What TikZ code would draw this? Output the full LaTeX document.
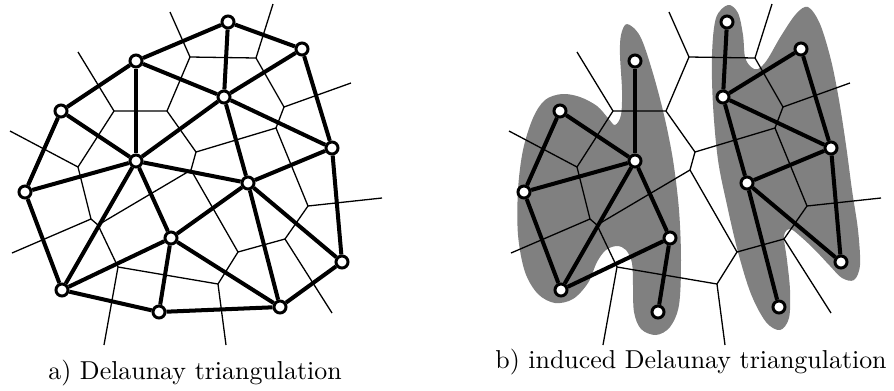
\documentclass[tikz,border=0pt]{standalone}
\usepackage{tikz}
\definecolor{blobgray}{gray}{0.5}
\tikzset{main node/.style={circle,fill=white,draw,line width=1.15pt,minimum size=4.65pt,inner sep=0pt},}
\tikzstyle{tri} = [line width=1.55pt]
\tikzstyle{vor} = [line width=0.5pt,line join=round]
\tikzstyle{subcap} = [anchor=base,inner sep=0pt]

\begin{document}
\begin{tikzpicture}[x=0.386pt,y=-0.386pt]
\useasboundingbox (0,0) rectangle (894,390);
% shaded clusters of b)
\fill[blobgray] plot[smooth cycle,tension=0.55] coordinates {
  (627,24) (640,36) (652,70) (664,115) (673,160) (679,210) (681,260)
  (679,305) (670,327) (656,335) (641,329) (634,312) (633,285) (632,263)
  (626,250) (617,246) (606,250) (597,262) (588,283) (573,299) (555,303)
  (538,294) (525,272) (518,235) (518,190) (523,150) (533,118) (545,100)
  (562,94) (580,97) (597,106) (608,118) (615,125) (621,115) (622,90)
  (620,55) (621,35)};
\fill[blobgray] plot[smooth cycle,tension=0.55] coordinates {
  (728,5) (738,13) (743,35) (745,57) (751,67) (758,69) (767,60) (781,36)
  (796,14) (808,7) (820,24) (831,60) (839,100) (846,145) (852,190)
  (858,230) (860,265) (854,280) (842,278) (830,266) (815,250) (800,236)
  (790,229) (784,236) (787,260) (790,290) (789,318) (780,330) (766,322)
  (751,294) (738,252) (727,205) (718,160) (713,105) (712,55) (716,18)};
% voronoi cells and sites, once for each panel
\foreach \s/\p in {0/a,499/b}{
  \begin{scope}[shift={(\s,0)},name prefix=\p-]
    \coordinate (v1) at (190,57);
    \coordinate (v2) at (256,58);
    \coordinate (v3) at (114,111);
    \coordinate (v4) at (167,111);
    \coordinate (v5) at (284,107);
    \coordinate (v6) at (78,167);
    \coordinate (v7) at (91,219);
    \coordinate (v8) at (98,225);
    \coordinate (v9) at (196,152);
    \coordinate (v10) at (191,170);
    \coordinate (v11) at (276,128);
    \coordinate (v12) at (118,267);
    \coordinate (v13) at (218,284);
    \coordinate (v14) at (238,252);
    \coordinate (v15) at (285,239);
    \coordinate (v16) at (308,206);
    \coordinate (w1) at (170,12);
    \coordinate (w2) at (273,4);
    \coordinate (w3) at (351,83);
    \coordinate (w4) at (382,198);
    \coordinate (w5) at (332,313);
    \coordinate (w6) at (226,345);
    \coordinate (w7) at (104,345);
    \coordinate (w8) at (12,253);
    \coordinate (w9) at (10,131);
    \coordinate (w10) at (78,52);
    \draw[vor] (w1) -- (v1) -- (v2) -- (w2);
    \draw[vor] (v1) -- (v4) -- (v3) -- (w10);
    \draw[vor] (v2) -- (v5) -- (w3);
    \draw[vor] (v5) -- (v11) -- (v16) -- (w4);
    \draw[vor] (v4) -- (v9) -- (v11);
    \draw[vor] (v9) -- (v10) -- (v14) -- (v15) -- (w5);
    \draw[vor] (v15) -- (v16);
    \draw[vor] (v3) -- (v6) -- (w9);
    \draw[vor] (v6) -- (v7) -- (w8);
    \draw[vor] (v7) -- (v8) -- (v10);
    \draw[vor] (v8) -- (v12) -- (w7);
    \draw[vor] (v12) -- (v13) -- (w6);
    \draw[vor] (v13) -- (v14);
    \node[main node] (1) at (228,22) {};
    \node[main node] (2) at (302,49) {};
    \node[main node] (3) at (136,61) {};
    \node[main node] (4) at (224,97) {};
    \node[main node] (5) at (61,111) {};
    \node[main node] (6) at (136,161) {};
    \node[main node] (7) at (332,148) {};
    \node[main node] (8) at (248,183) {};
    \node[main node] (9) at (25,192) {};
    \node[main node] (10) at (171,238) {};
    \node[main node] (11) at (342,262) {};
    \node[main node] (12) at (62,290) {};
    \node[main node] (13) at (159,312) {};
    \node[main node] (14) at (280,307) {};
  \end{scope}
}
% a) full triangulation
\foreach \u/\v in {1/3,1/2,1/4,3/4,2/4,3/5,3/6,4/6,5/6,5/9,9/6,9/12,12/6,
  6/10,6/8,12/10,12/13,10/13,13/14,10/8,10/14,8/14,8/11,14/11,7/11,8/7,
  4/8,4/7,2/7}
  \draw[tri] (a-\u) -- (a-\v);
% b) induced triangulation
\foreach \u/\v in {3/6,5/6,5/9,9/6,9/12,12/6,6/10,12/10,10/13,
  1/4,4/2,4/7,2/7,4/8,8/7,8/11,7/11,8/14}
  \draw[tri] (b-\u) -- (b-\v);
\node[subcap] (capa) at (195,379) {a) Delaunay triangulation};
\node[subcap] (capb) at (691,368) {b) induced Delaunay triangulation};
\end{tikzpicture}
\end{document}
